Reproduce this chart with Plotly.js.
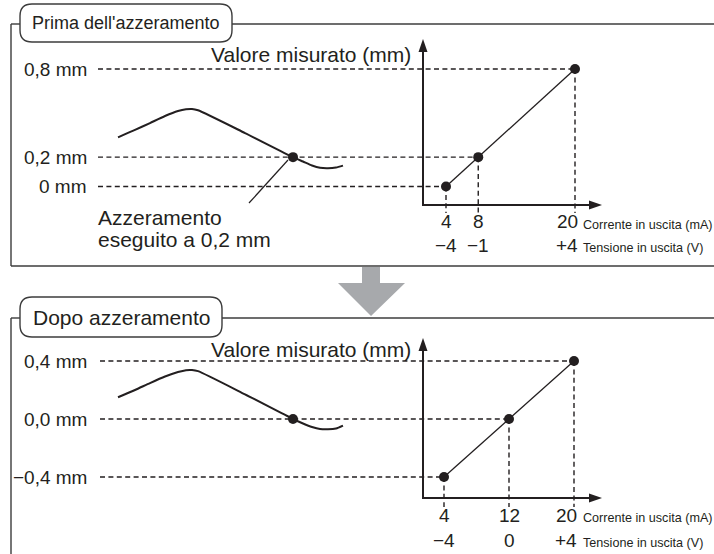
<!DOCTYPE html>
<html><head><meta charset="utf-8">
<script src="https://cdn.plot.ly/plotly-3.0.1.min.js"></script>
<style>html,body{margin:0;padding:0;background:#fff}#chart{width:714px;height:554px}</style>
</head><body><div id="chart"></div>
<script>
// ---------------- data ----------------
const currentTop = [4, 8, 20];
const measuredTop = [0, 0.2, 0.8];
const voltageTopLabels = ['\u22124', '\u22121', '+4'];
const currentBottom = [4, 12, 20];
const measuredBottom = [-0.4, 0, 0.4];
const voltageBottomLabels = ['\u22124', '0', '+4'];
const levelLabelsTop = ['0,8 mm', '0,2 mm', '0 mm'];
const levelValuesTop = [0.8, 0.2, 0];
const levelLabelsBottom = ['0,4 mm', '0,0 mm', '\u22120,4 mm'];
const levelValuesBottom = [0.4, 0, -0.4];
const curveTime   = [0, 1.7, 3.2, 4.7, 6.0, 6.8, 7.4, 8.0, 12.7, 17.5, 18.5, 19.4, 20.2, 21.0, 21.8, 22.5];
const curveTop    = [0.335, 0.385, 0.432, 0.480, 0.514, 0.526, 0.528, 0.519, 0.364, 0.2, 0.170, 0.143, 0.127, 0.124, 0.129, 0.142];
const curveBottom = [0.150, 0.200, 0.248, 0.293, 0.324, 0.337, 0.338, 0.330, 0.170, 0.0, -0.031, -0.055, -0.069, -0.071, -0.066, -0.046];
const zeroTime = [17.5];
const zeroTop = [0.2];
const zeroBottom = [0];
const panelTitles = ["Prima dell'azzeramento", 'Dopo azzeramento'];
const yTitle = 'Valore misurato (mm)';
const currentTitle = 'Corrente in uscita (mA)';
const voltageTitle = 'Tensione in uscita (V)';
const zeroNote = ['Azzeramento', 'eseguito a 0,2 mm'];

// ---------------- layout helpers ----------------
const W = 714, H = 554;
const INK = '#231f20', FRAME = '#3c3c3c', GREY = '#a7a9ac';
const FONT = 'Liberation Sans, Arial, Helvetica, sans-serif';
function xRange(v1, p1, v2, p2) { const s = (p2 - p1) / (v2 - v1); return [v1 - p1 / s, v1 + (W - p1) / s]; }
function yRange(v1, p1, v2, p2) { const s = (p1 - p2) / (v2 - v1); return [v1 - (H - p1) / s, v1 + p1 / s]; }
function xInv(r, p) { return r[0] + (r[1] - r[0]) * p / W; }
function yInv(r, p) { return r[1] - (r[1] - r[0]) * p / H; }
const px = p => p / W, py = p => 1 - p / H;

const rxTop = xRange(4, 446, 20, 575);
const ryTop = yRange(0, 186.5, 0.8, 69);
const rxBot = xRange(4, 444, 20, 574);
const ryBot = yRange(-0.4, 477, 0.4, 361);
const rt = xRange(0, 118, 22.5, 343);

function roundBox(x0, y0, x1, y1, r) {
  return `M${px(x0 + r)},${py(y0)} L${px(x1 - r)},${py(y0)} Q${px(x1)},${py(y0)} ${px(x1)},${py(y0 + r)} ` +
    `L${px(x1)},${py(y1 - r)} Q${px(x1)},${py(y1)} ${px(x1 - r)},${py(y1)} L${px(x0 + r)},${py(y1)} ` +
    `Q${px(x0)},${py(y1)} ${px(x0)},${py(y1 - r)} L${px(x0)},${py(y0 + r)} Q${px(x0)},${py(y0)} ${px(x0 + r)},${py(y0)} Z`;
}
function pline(x0, y0, x1, y1, color, width) {
  return { type: 'line', xref: 'paper', yref: 'paper', x0: px(x0), y0: py(y0), x1: px(x1), y1: py(y1),
    line: { color: color || FRAME, width: width || 1.4 } };
}
function ppath(pts, close, fill, lineColor, width) {
  let d = pts.map((p, i) => (i ? 'L' : 'M') + px(p[0]) + ',' + py(p[1])).join(' ') + (close ? ' Z' : '');
  return { type: 'path', xref: 'paper', yref: 'paper', path: d, fillcolor: fill || 'rgba(0,0,0,0)',
    line: { color: lineColor || 'rgba(0,0,0,0)', width: width || 0 } };
}
const DASH = { color: INK, width: 1.4, dash: '5px,3.4px' };

// ---------------- traces ----------------
const traces = [
  { x: currentTop, y: measuredTop, xaxis: 'x', yaxis: 'y', mode: 'lines+markers',
    line: { color: INK, width: 1.3 }, marker: { color: INK, size: 10 } },
  { x: currentBottom, y: measuredBottom, xaxis: 'x2', yaxis: 'y2', mode: 'lines+markers',
    line: { color: INK, width: 1.3 }, marker: { color: INK, size: 10 } },
  { x: curveTime, y: curveTop, xaxis: 'x3', yaxis: 'y', mode: 'lines',
    line: { color: INK, width: 2, shape: 'spline', smoothing: 0.6 } },
  { x: curveTime, y: curveBottom, xaxis: 'x3', yaxis: 'y2', mode: 'lines',
    line: { color: INK, width: 2, shape: 'spline', smoothing: 0.6 } },
  { x: zeroTime, y: zeroTop, xaxis: 'x3', yaxis: 'y', mode: 'markers', marker: { color: INK, size: 10 } },
  { x: zeroTime, y: zeroBottom, xaxis: 'x3', yaxis: 'y2', mode: 'markers', marker: { color: INK, size: 10 } }
];

// ---------------- shapes ----------------
const shapes = [];
// frames
shapes.push(pline(11, 24, 20, 24), pline(232, 24, 714, 24), pline(11, 24, 11, 266), pline(11, 266, 714, 266));
shapes.push({ type: 'path', xref: 'paper', yref: 'paper', path: roundBox(20, 4, 232, 42, 12),
  fillcolor: '#fff', line: { color: FRAME, width: 1.4 } });
shapes.push(pline(11, 318, 20, 318), pline(222, 318, 714, 318), pline(11, 318, 11, 554));
shapes.push({ type: 'path', xref: 'paper', yref: 'paper', path: roundBox(20, 297, 222, 337, 12),
  fillcolor: '#fff', line: { color: FRAME, width: 1.4 } });
// big grey arrow
shapes.push(ppath([[362, 267], [380, 267], [380, 283], [405, 283], [371, 316], [338, 283], [362, 283]], true, GREY));
// guides (dashed)
currentTop.forEach((c, i) => {
  shapes.push({ type: 'line', xref: 'x', yref: 'y', x0: xInv(rxTop, 98), x1: c, y0: measuredTop[i], y1: measuredTop[i], line: DASH, layer: 'below' });
  shapes.push({ type: 'line', xref: 'x', yref: 'y', x0: c, x1: c, y0: measuredTop[i], y1: yInv(ryTop, 213), line: DASH, layer: 'below' });
});
currentBottom.forEach((c, i) => {
  shapes.push({ type: 'line', xref: 'x2', yref: 'y2', x0: xInv(rxBot, 100), x1: c, y0: measuredBottom[i], y1: measuredBottom[i], line: DASH, layer: 'below' });
  shapes.push({ type: 'line', xref: 'x2', yref: 'y2', x0: c, x1: c, y0: measuredBottom[i], y1: yInv(ryBot, 507), line: DASH, layer: 'below' });
});
// chart axes with arrowheads
[[205, 39], [498, 338]].forEach(([base, tip]) => {
  shapes.push(ppath([[423, tip + 11], [423, base], [591, base]], false, 'rgba(0,0,0,0)', INK, 2));
  shapes.push(ppath([[423, tip], [418.5, tip + 13], [427.5, tip + 13]], true, INK));
  shapes.push(ppath([[602, base], [589, base - 4.5], [589, base + 4.5]], true, INK));
});
// leader line of the zeroing note
shapes.push(pline(288, 160, 249, 203, INK, 1.2));

// ---------------- annotations ----------------
const ann = [];
function txt(x, y, text, size, anchor, extra) {
  return Object.assign({ xref: 'paper', yref: 'paper', x: px(x), y: py(y), text: text, showarrow: false,
    xanchor: anchor || 'center', yanchor: 'middle', font: { family: FONT, size: size, color: INK } }, extra || {});
}
ann.push(txt(126, 23, panelTitles[0], 18));
ann.push(txt(121, 317, panelTitles[1], 21));
ann.push(txt(413, 55, yTitle, 21, 'right'));
ann.push(txt(413, 349, yTitle, 21, 'right'));
ann.push(txt(96, 217, zeroNote[0], 21, 'left'));
ann.push(txt(96, 240, zeroNote[1], 21, 'left'));
levelLabelsTop.forEach((t, i) => ann.push({ xref: 'paper', yref: 'y', x: px(89), y: levelValuesTop[i], text: t,
  showarrow: false, xanchor: 'right', yanchor: 'middle', font: { family: FONT, size: 19, color: INK } }));
levelLabelsBottom.forEach((t, i) => ann.push({ xref: 'paper', yref: 'y2', x: px(89), y: levelValuesBottom[i], text: t,
  showarrow: false, xanchor: 'right', yanchor: 'middle', font: { family: FONT, size: 19, color: INK } }));
function ticks(xref, vals, vlabels, yA, yB) {
  vals.forEach((v, i) => {
    const last = i === vals.length - 1;
    const base = { xref: xref, yref: 'paper', x: v, showarrow: false, yanchor: 'middle',
      xanchor: last ? 'right' : 'center', xshift: last ? 5 : 0, font: { family: FONT, size: 19, color: INK } };
    ann.push(Object.assign({}, base, { y: py(yA), text: String(v) }));
    ann.push(Object.assign({}, base, { y: py(yB), text: vlabels[i] }));
  });
}
ticks('x', currentTop, voltageTopLabels, 222, 245);
ticks('x2', currentBottom, voltageBottomLabels, 515, 540);
[[224.5, 247.5], [517.5, 542.5]].forEach(([a, b]) => {
  ann.push(txt(581, a, currentTitle, 12.6, 'left'));
  ann.push(txt(581, b, voltageTitle, 12.6, 'left'));
});

const hidden = { visible: false, showgrid: false, zeroline: false, fixedrange: true, domain: [0, 1] };
const layout = {
  width: W, height: H, margin: { l: 0, r: 0, t: 0, b: 0, pad: 0 },
  paper_bgcolor: '#fff', plot_bgcolor: 'rgba(0,0,0,0)', showlegend: false,
  xaxis: Object.assign({}, hidden, { range: rxTop, anchor: 'y' }),
  yaxis: Object.assign({}, hidden, { range: ryTop, anchor: 'x' }),
  xaxis2: Object.assign({}, hidden, { range: rxBot, anchor: 'y2', overlaying: 'x' }),
  yaxis2: Object.assign({}, hidden, { range: ryBot, anchor: 'x2', overlaying: 'y' }),
  xaxis3: Object.assign({}, hidden, { range: rt, anchor: 'y', overlaying: 'x' }),
  shapes: shapes, annotations: ann
};
Plotly.newPlot('chart', traces, layout, { staticPlot: true, displayModeBar: false });
</script></body></html>
